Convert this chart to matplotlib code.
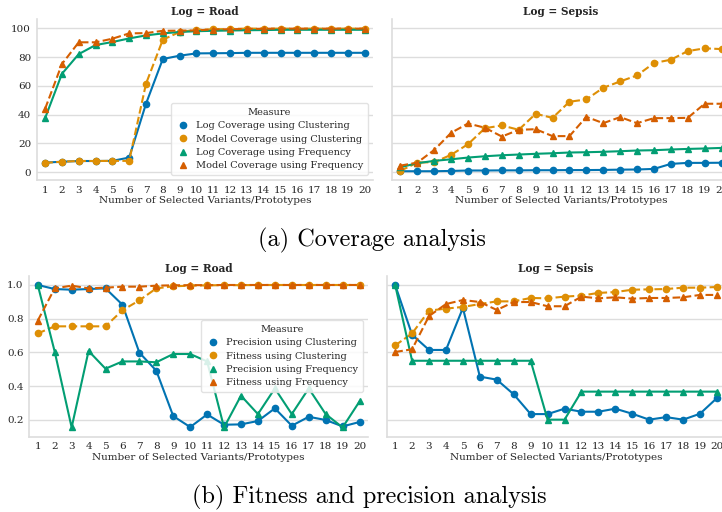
import matplotlib
matplotlib.use("Agg")
import matplotlib.pyplot as plt
from matplotlib.lines import Line2D

# number of selected variants / prototypes
k = list(range(1, 21))

# (a) coverage, Log = Road
road_log_clu = [6.7, 7.3, 7.8, 7.8, 7.9, 10.2, 47.6, 78.7, 81.0, 82.6, 82.7, 82.8, 83.0, 83.0, 83.0, 83.0, 83.0, 83.0, 83.0, 83.0]
road_mod_clu = [6.5, 7.3, 7.8, 7.8, 7.9, 7.9, 61.5, 92.1, 97.5, 99.0, 99.3, 99.6, 99.8, 99.8, 99.8, 99.8, 99.8, 99.8, 99.8, 99.8]
road_log_frq = [37.6, 68.4, 82.1, 88.4, 90.5, 93.0, 95.1, 96.5, 97.5, 98.0, 98.3, 98.5, 98.7, 98.8, 99.0, 99.0, 99.0, 99.0, 99.0, 99.0]
road_mod_frq = [44.1, 75.2, 90.3, 90.3, 92.8, 96.5, 96.7, 98.3, 98.4, 98.6, 99.2, 99.4, 99.6, 99.7, 99.8, 99.8, 99.8, 99.8, 99.8, 99.8]

# (a) coverage, Log = Sepsis
sep_log_clu = [0.7, 0.7, 0.7, 0.9, 1.2, 1.2, 1.3, 1.3, 1.4, 1.4, 1.5, 1.5, 1.6, 1.8, 1.9, 2.3, 5.8, 6.5, 6.5, 6.6]
sep_mod_clu = [1.0, 6.7, 7.0, 12.1, 19.5, 30.6, 32.5, 29.5, 40.6, 37.8, 49.0, 50.6, 58.7, 63.1, 67.3, 75.9, 78.2, 84.2, 86.1, 85.6]
sep_log_frq = [3.5, 6.3, 7.9, 9.0, 10.2, 11.1, 11.8, 12.3, 12.8, 13.2, 13.7, 13.9, 14.2, 14.6, 15.1, 15.3, 15.8, 16.2, 16.5, 16.9]
sep_mod_frq = [4.6, 6.7, 15.5, 27.4, 33.9, 30.9, 24.8, 29.5, 29.9, 25.1, 25.1, 38.5, 34.1, 38.3, 34.1, 37.6, 37.6, 37.8, 47.6, 47.6]

# (b) fitness / precision, Log = Road
road_prec_clu = [1.0, 0.976, 0.972, 0.976, 0.98, 0.883, 0.599, 0.492, 0.223, 0.158, 0.233, 0.172, 0.174, 0.194, 0.269, 0.166, 0.219, 0.2, 0.162, 0.188]
road_fit_clu = [0.713, 0.755, 0.755, 0.755, 0.755, 0.85, 0.909, 0.98, 0.992, 0.996, 0.998, 0.999, 0.999, 1.0, 1.0, 1.0, 1.0, 1.0, 1.0, 1.0]
road_prec_frq = [1.0, 0.605, 0.156, 0.609, 0.504, 0.547, 0.547, 0.542, 0.591, 0.591, 0.547, 0.156, 0.344, 0.235, 0.387, 0.235, 0.387, 0.235, 0.156, 0.31]
road_fit_frq = [0.789, 0.98, 0.996, 0.98, 0.984, 0.99, 0.99, 0.996, 0.998, 0.999, 0.999, 1.0, 1.0, 1.0, 1.0, 1.0, 1.0, 1.0, 1.0, 1.0]

# (b) fitness / precision, Log = Sepsis
sep_prec_clu = [1.0, 0.705, 0.615, 0.615, 0.864, 0.457, 0.439, 0.352, 0.235, 0.235, 0.267, 0.249, 0.249, 0.267, 0.237, 0.202, 0.217, 0.202, 0.237, 0.33]
sep_fit_clu = [0.642, 0.713, 0.848, 0.86, 0.87, 0.887, 0.903, 0.903, 0.923, 0.921, 0.931, 0.937, 0.953, 0.958, 0.972, 0.974, 0.976, 0.984, 0.984, 0.988]
sep_prec_frq = [1.0, 0.551, 0.551, 0.551, 0.551, 0.551, 0.551, 0.551, 0.551, 0.202, 0.202, 0.368, 0.368, 0.368, 0.368, 0.368, 0.368, 0.368, 0.368, 0.368]
sep_fit_frq = [0.603, 0.619, 0.816, 0.887, 0.911, 0.899, 0.852, 0.899, 0.899, 0.874, 0.874, 0.931, 0.921, 0.927, 0.919, 0.923, 0.923, 0.927, 0.941, 0.941]

cov_names = ["Log Coverage using Clustering", "Model Coverage using Clustering",
             "Log Coverage using Frequency", "Model Coverage using Frequency"]
fp_names = ["Precision using Clustering", "Fitness using Clustering",
            "Precision using Frequency", "Fitness using Frequency"]

colors = ["#0173b2", "#de8f05", "#029e73", "#d55e00"]
markers = ["o", "o", "^", "^"]
styles = ["-", "--", "-", "--"]

plt.rcParams["font.family"] = ["DejaVu Serif"]
plt.rcParams["text.color"] = ".15"
plt.rcParams["axes.labelcolor"] = ".15"
plt.rcParams["xtick.color"] = ".15"
plt.rcParams["ytick.color"] = ".15"

W, H = 722, 512
fig = plt.figure(figsize=(W / 100, H / 100), dpi=100)


def px_axes(x0, y0, x1, y1):
    # axes from pixel box (top-left origin)
    return fig.add_axes([x0 / W, 1 - y1 / H, (x1 - x0) / W, (y1 - y0) / H])


def panel(ax, series, title, ylim, yticks, show_y):
    for i, s in enumerate(series):
        ax.plot(k, s, color=colors[i], marker=markers[i], ls=styles[i],
                lw=1.5, ms=4.5, zorder=3)
    ax.set_xlim(0.5, 20.5)
    ax.set_ylim(*ylim)
    ax.set_xticks(k)
    ax.set_yticks(yticks)
    ax.grid(axis="y", color="#dddddd", lw=1)
    ax.grid(axis="x", visible=False)
    ax.set_axisbelow(True)
    for side in ["top", "right"]:
        ax.spines[side].set_visible(False)
    for side in ["left", "bottom"]:
        ax.spines[side].set_color("#dddddd")
        ax.spines[side].set_linewidth(1.2)
    ax.tick_params(length=0, labelsize=7.5, pad=4)
    if not show_y:
        ax.tick_params(labelleft=False)
    ax.set_title(title, fontsize=7.6, fontweight="bold", pad=3)
    ax.set_xlabel("Number of Selected Variants/Prototypes", fontsize=7.5, labelpad=1)


def add_legend(ax, names, loc):
    handles = [Line2D([], [], color=colors[i], marker=markers[i], ls="", ms=4.5)
               for i in range(4)]
    leg = ax.legend(handles, names, title="Measure", loc=loc, fontsize=7,
                    title_fontsize=7, frameon=True, handletextpad=0.6,
                    labelspacing=0.45, borderpad=0.5, handlelength=1.5)
    leg.get_frame().set_edgecolor("#dddddd")
    leg.get_frame().set_facecolor("white")
    leg.get_frame().set_alpha(0.85)


# (a) Coverage analysis
ax1 = px_axes(36.7, 19, 373, 180)
panel(ax1, [road_log_clu, road_mod_clu, road_log_frq, road_mod_frq],
      "Log = Road", (-5.4, 106.5), [0, 20, 40, 60, 80, 100], True)
add_legend(ax1, cov_names, "lower right")

ax2 = px_axes(392, 19, 730, 180)
panel(ax2, [sep_log_clu, sep_mod_clu, sep_log_frq, sep_mod_frq],
      "Log = Sepsis", (-5.4, 106.5), [0, 20, 40, 60, 80, 100], False)

# (b) Fitness and precision analysis
ax3 = px_axes(29.3, 275.7, 368, 436.7)
panel(ax3, [road_prec_clu, road_fit_clu, road_prec_frq, road_fit_frq],
      "Log = Road", (0.101, 1.055), [0.2, 0.4, 0.6, 0.8, 1.0], True)
ax3.set_yticklabels(["0.2", "0.4", "0.6", "0.8", "1.0"])
add_legend(ax3, fp_names, "center right")

ax4 = px_axes(386.7, 275.7, 725.4, 436.7)
panel(ax4, [sep_prec_clu, sep_fit_clu, sep_prec_frq, sep_fit_frq],
      "Log = Sepsis", (0.101, 1.055), [0.2, 0.4, 0.6, 0.8, 1.0], False)

fig.text(372 / W, 1 - 240 / H, "(a) Coverage analysis", family="cmr10",
         fontsize=17.5, ha="center", va="center", color="black")
fig.text(369 / W, 1 - 497 / H, "(b) Fitness and precision analysis", family="cmr10",
         fontsize=17.5, ha="center", va="center", color="black")

fig.savefig("out.png", dpi=100, facecolor="white")
